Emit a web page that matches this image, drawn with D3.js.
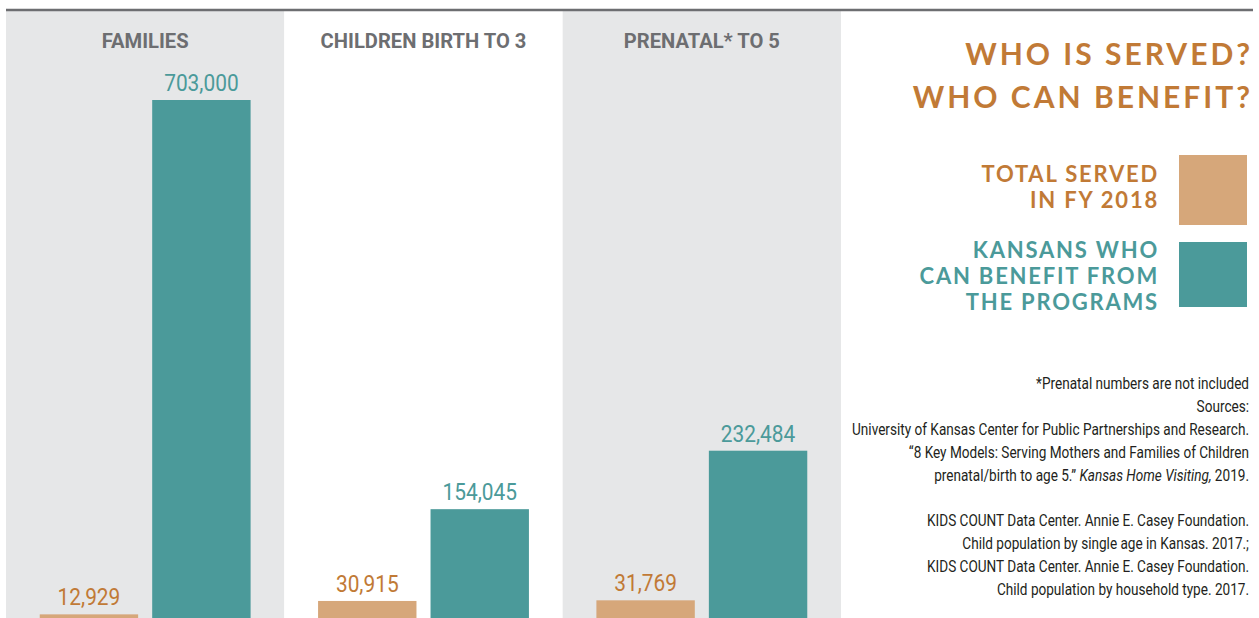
<!DOCTYPE html>
<html>
<head>
<meta charset="utf-8">
<script src="https://cdn.jsdelivr.net/npm/d3@7"></script>
<style>
  body { margin: 0; background: #fff; }
  svg { display: block; }
  .narrow { font-family: "Roboto", "Liberation Sans", sans-serif; }
  .geo { font-family: "Lato", "Open Sans", sans-serif; font-weight: 700; }
</style>
</head>
<body>
<div id="chart"></div>
<script>
// Categories and series values
const groups = ["FAMILIES", "CHILDREN BIRTH TO 3", "PRENATAL* TO 5"];
const served = [12929, 30915, 31769];
const canBenefit = [703000, 154045, 232484];

const titleLines = ["WHO IS SERVED?", "WHO CAN BENEFIT?"];
const legendItems = [
    { key: "served", lines: ["TOTAL SERVED", "IN FY 2018"] },
    { key: "benefit", lines: ["KANSANS WHO", "CAN BENEFIT FROM", "THE PROGRAMS"] }
];
const noteLines = [
    "*Prenatal numbers are not included",
    "Sources:",
    "University of Kansas Center for Public Partnerships and Research.",
    "\u201C8 Key Models: Serving Mothers and Families of Children",
    "prenatal/birth to age 5.\u201D |Kansas Home Visiting,| 2019.",
    "",
    "KIDS COUNT Data Center. Annie E. Casey Foundation.",
    "Child population by single age in Kansas. 2017.;",
    "KIDS COUNT Data Center. Annie E. Casey Foundation.",
    "Child population by household type. 2017."
];

const colors = { served: "#d6a77a", benefit: "#4b9a9a" };
const labelColors = { served: "#c17a36", benefit: "#4b9a9a" };

const W = 1259, H = 618;
const svg = d3.select("#chart").append("svg")
    .attr("width", W)
    .attr("height", H);

// condensed look: squeeze text horizontally around its anchor
function narrowText(parent, x, y, sx) {
    return parent.append("g")
        .attr("transform", `translate(${x},${y}) scale(${sx},1)`)
        .append("text")
        .attr("class", "narrow");
}

// Outer band for each panel, inner band for the two bars
const x0 = d3.scaleBand().domain(groups).range([6, 841]).padding(0);
const x1 = d3.scaleBand().domain(["served", "benefit"])
    .range([0, x0.bandwidth()])
    .paddingInner(0.125)
    .paddingOuter(0.3);

const y = d3.scaleLinear()
    .domain([0, d3.max(canBenefit)])
    .range([624, 100]);

// Panel backgrounds
svg.selectAll(".panel")
    .data(groups)
    .enter()
    .append("rect")
    .attr("x", d => x0(d))
    .attr("y", 11)
    .attr("width", x0.bandwidth())
    .attr("height", H - 11)
    .attr("fill", (d, i) => i % 2 === 0 ? "#e6e7e8" : "#ffffff");

// Top rule
svg.append("line")
    .attr("x1", 6).attr("x2", 1253)
    .attr("y1", 10).attr("y2", 10)
    .attr("stroke", "#6d6e71")
    .attr("stroke-width", 2.5);

// Panel headers
groups.forEach(g => {
    narrowText(svg, x0(g) + x0.bandwidth() / 2, 48, 0.96)
        .attr("text-anchor", "middle")
        .attr("font-size", 21)
        .attr("font-weight", 700)
        .attr("fill", "#6d6e71")
        .text(g);
});

const rows = groups.map((g, i) => [
    { group: g, key: "served", value: served[i] },
    { group: g, key: "benefit", value: canBenefit[i] }
]).flat();

svg.selectAll(".bar")
    .data(rows)
    .enter()
    .append("rect")
    .attr("x", d => x0(d.group) + x1(d.key))
    .attr("y", d => y(d.value))
    .attr("width", x1.bandwidth())
    .attr("height", d => H - y(d.value) + 10)
    .attr("fill", d => colors[d.key]);

rows.forEach(d => {
    narrowText(svg, x0(d.group) + x1(d.key) + x1.bandwidth() / 2, y(d.value) - 9, 0.87)
        .attr("text-anchor", "middle")
        .attr("font-size", 24)
        .attr("fill", labelColors[d.key])
        .text(d3.format(",")(d.value));
});

// Title
svg.selectAll(".title")
    .data(titleLines)
    .enter()
    .append("text")
    .attr("class", "geo")
    .attr("x", 1253)
    .attr("y", (d, i) => 65 + i * 43)
    .attr("text-anchor", "end")
    .attr("font-size", 30)
    .attr("letter-spacing", 3)
    .attr("fill", "#c17a36")
    .text(d => d);

// Legend
const legendTop = [155, 242];
const legendH = [70, 65];
legendItems.forEach((item, i) => {
    svg.append("rect")
        .attr("x", 1179)
        .attr("y", legendTop[i])
        .attr("width", 68)
        .attr("height", legendH[i])
        .attr("fill", colors[item.key]);
    item.lines.forEach((line, j) => {
        svg.append("text")
            .attr("class", "geo")
            .attr("x", 1159)
            .attr("y", legendTop[i] + (i === 0 ? 27 : 16) + j * 26)
            .attr("text-anchor", "end")
            .attr("font-size", 22)
            .attr("letter-spacing", 1.8)
            .attr("fill", labelColors[item.key])
            .text(line);
    });
});

// Notes and sources, "|" marks italic runs
noteLines.forEach((line, i) => {
    if (!line) return;
    const t = narrowText(svg, 1249, 389 + i * 22.9, 0.85)
        .attr("text-anchor", "end")
        .attr("font-size", 16)
        .attr("fill", "#231f20");
    line.split("|").forEach((part, k) => {
        t.append("tspan")
            .attr("font-style", k % 2 === 1 ? "italic" : "normal")
            .text(part);
    });
});
</script>
</body>
</html>
